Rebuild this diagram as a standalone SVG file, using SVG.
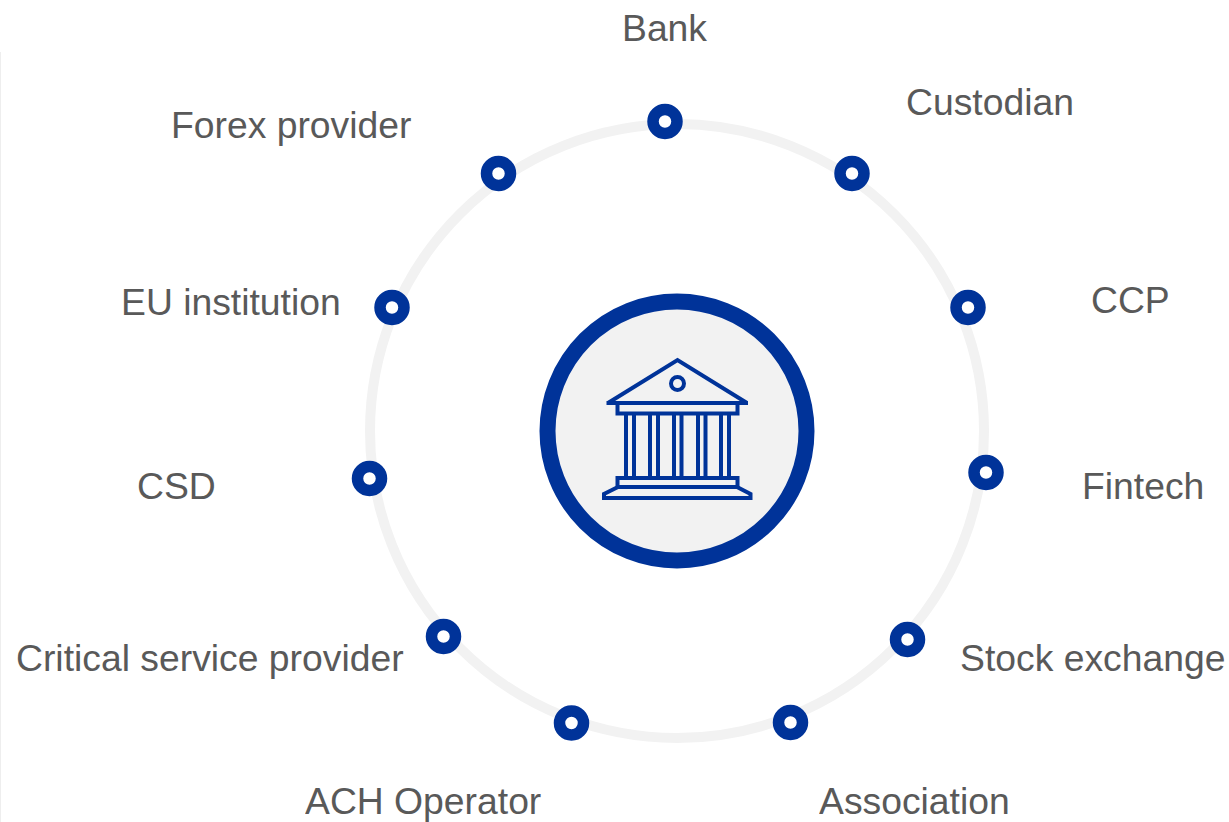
<svg xmlns="http://www.w3.org/2000/svg" width="1229" height="822" viewBox="0 0 1229 822">
<style>
.l{font-family:"Liberation Sans",Arial,sans-serif;font-size:37.3px;fill:#595959;opacity:.999}
.d{fill:#fff;stroke:#003399;stroke-width:11.5}
.i{fill:none;stroke:#003399;stroke-width:4;stroke-linejoin:miter}
</style>
<rect width="1229" height="822" fill="#fff"/>
<path d="M0.5 52V822" stroke="#eeeeee" stroke-width="1" fill="none"/>
<g id="connectors"><circle cx="677" cy="431" r="307" fill="none" stroke="#f2f2f2" stroke-width="10"/></g>
<g id="center">
<circle cx="677" cy="431" r="129.500" fill="#f2f2f2" stroke="#003399" stroke-width="16"/>
<g class="i">
<path d="M608 403L677.500 360L747 403"/>
<path d="M606.500 403H748"/>
<circle cx="677.500" cy="383.500" r="6.500"/>
<path d="M617.500 404V413.500H737.500V404"/>
<path d="M626 414V477M634 414V477M650 414V477M658 414V477M674 414V477M681.500 414V477M698 414V477M705.500 414V477M721 414V477M729 414V477"/>
<path d="M617.500 487V478H737.500V487"/>
<path d="M618 487H737L750.500 494V498H604V494Z"/>
</g>
</g>
<g id="n-bank"><circle class="d" cx="665" cy="121.500" r="12"/><text class="l" x="622" y="41">Bank</text></g>
<g id="n-custodian"><circle class="d" cx="852" cy="173.500" r="12"/><text class="l" x="906" y="115">Custodian</text></g>
<g id="n-ccp"><circle class="d" cx="968" cy="307.500" r="12"/><text class="l" x="1091" y="313">CCP</text></g>
<g id="n-fintech"><circle class="d" cx="986" cy="472.500" r="12"/><text class="l" x="1082" y="499">Fintech</text></g>
<g id="n-stock"><circle class="d" cx="907.500" cy="639.500" r="12"/><text class="l" x="960" y="671">Stock exchange</text></g>
<g id="n-association"><circle class="d" cx="790.500" cy="722.500" r="12"/><text class="l" x="819" y="814">Association</text></g>
<g id="n-ach"><circle class="d" cx="571.500" cy="723" r="12"/><text class="l" x="305" y="814">ACH Operator</text></g>
<g id="n-critical"><circle class="d" cx="443.500" cy="636.500" r="12"/><text class="l" x="16" y="671">Critical service provider</text></g>
<g id="n-csd"><circle class="d" cx="369.500" cy="478.500" r="12"/><text class="l" x="137" y="499">CSD</text></g>
<g id="n-eu"><circle class="d" cx="392" cy="307.500" r="12"/><text class="l" x="121" y="315">EU institution</text></g>
<g id="n-forex"><circle class="d" cx="498.500" cy="173.500" r="12"/><text class="l" x="171" y="138">Forex provider</text></g>
</svg>
